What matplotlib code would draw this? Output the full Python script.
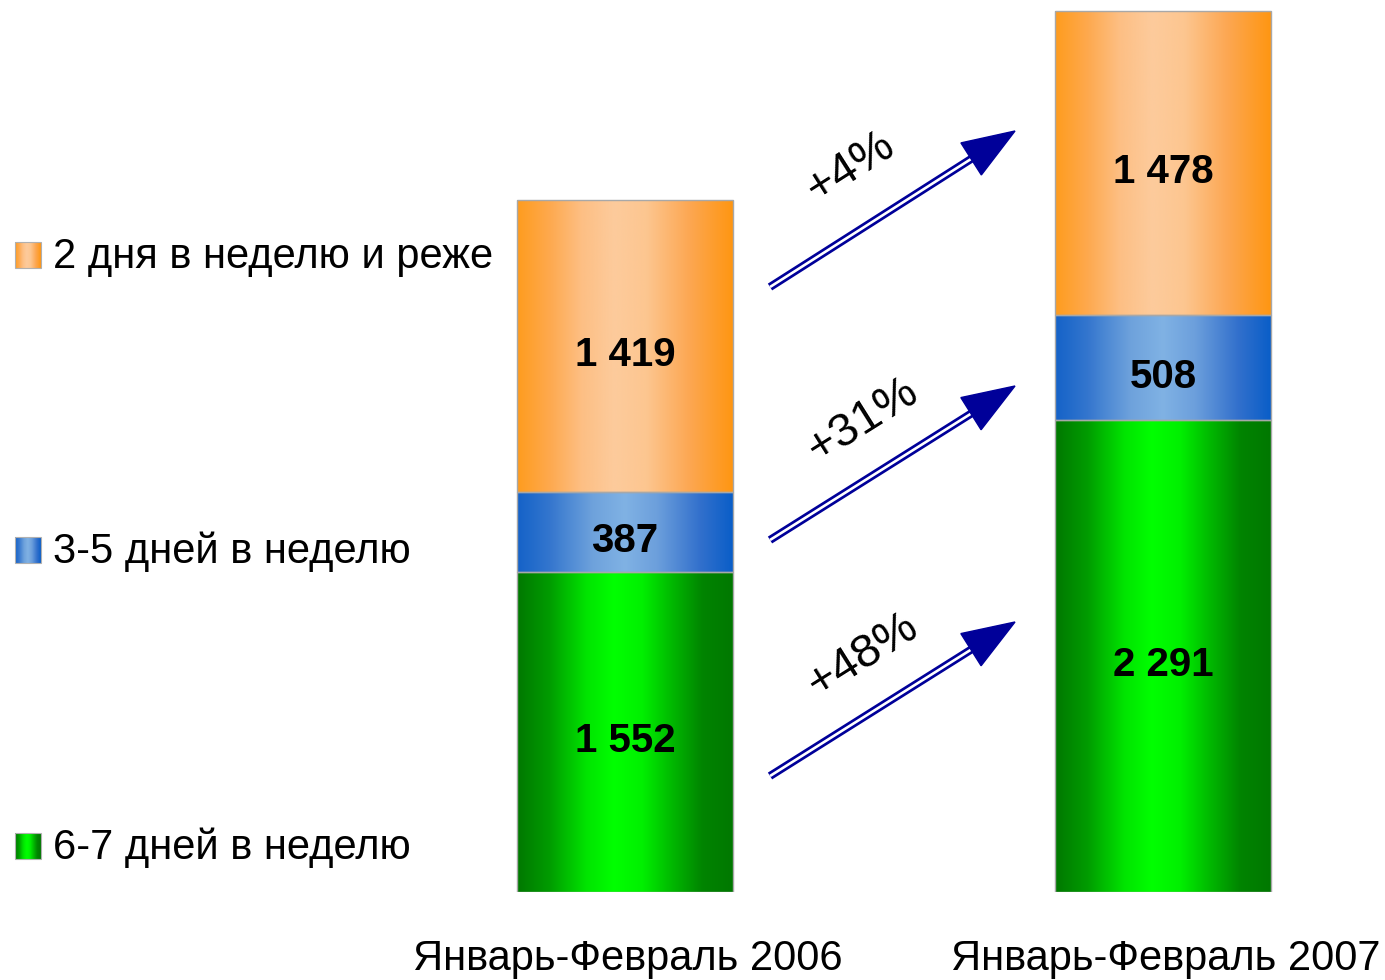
import matplotlib
matplotlib.use("Agg")
import matplotlib.pyplot as plt
import numpy as np
from matplotlib import font_manager, transforms
from matplotlib.colors import LinearSegmentedColormap
from matplotlib.patches import Polygon, Rectangle

# ---- data ----
periods = ["Январь-Февраль 2006", "Январь-Февраль 2007"]
series_names = ["6-7 дней в неделю", "3-5 дней в неделю", "2 дня в неделю и реже"]
days_6_7 = [1552, 2291]
days_3_5 = [387, 508]
days_2_less = [1419, 1478]
series_values = [days_6_7, days_3_5, days_2_less]


def has_font(name):
    try:
        font_manager.findfont(font_manager.FontProperties(family=name),
                              fallback_to_default=False)
        return True
    except ValueError:
        return False


BASE_FONT = "Liberation Sans"
NARROW_FONT = "Liberation Sans Narrow" if has_font("Liberation Sans Narrow") else None
plt.rcParams["font.family"] = [BASE_FONT, "DejaVu Sans"]

# horizontal "cylinder" shading for each series
shades = [
    LinearSegmentedColormap.from_list("green", [
        (0.0, "#007800"), (0.15, "#009c00"), (0.32, "#00e400"), (0.45, "#00ff00"),
        (0.58, "#00f000"), (0.72, "#00b800"), (0.86, "#008400"), (1.0, "#007800")]),
    LinearSegmentedColormap.from_list("blue", [
        (0.0, "#1462c8"), (0.15, "#3476ce"), (0.35, "#6ea2dc"), (0.5, "#80b2e4"),
        (0.65, "#6c9fdc"), (0.85, "#3270cc"), (1.0, "#0a5ec8")]),
    LinearSegmentedColormap.from_list("orange", [
        (0.0, "#ff9c1e"), (0.15, "#fea94e"), (0.3, "#fdbf84"), (0.45, "#fdcb9c"),
        (0.6, "#fdc690"), (0.8, "#fca752"), (1.0, "#ff9612")]),
]
grad = np.linspace(0, 1, 256)[np.newaxis, :]

W, H = 1385, 980
fig = plt.figure(figsize=(W / 100, H / 100), dpi=100)
fig.patch.set_facecolor("white")

# bar axes: baseline at y=892 px, 0.2061 px per unit; bars 538 px apart
px_per_unit = 0.2061
ax = fig.add_axes([0, (H - 892) / H, 1, 892 / H])
ax.axis("off")

# overlay axes in pixel coordinates for legend, arrows and captions
ov = fig.add_axes([0, 0, 1, 1], zorder=3)
ov.axis("off")

x = np.arange(len(periods))
bar_w = 216 / 538
bottom = np.zeros(len(periods))
for vals, cmap in zip(series_values, shades):
    bars = ax.bar(x, vals, width=bar_w, bottom=bottom, facecolor="none",
                  edgecolor="#a8a8a8", linewidth=1.0, zorder=2)
    for rect, v in zip(bars, vals):
        x0, y0 = rect.get_x(), rect.get_y()
        im = ax.imshow(grad, cmap=cmap, aspect="auto", interpolation="bicubic",
                       extent=[x0, x0 + rect.get_width(), y0, y0 + rect.get_height()],
                       zorder=1)
        im.set_clip_path(rect)
        ax.annotate(f"{v:,}".replace(",", " "),
                    (x0 + rect.get_width() / 2, y0 + rect.get_height() / 2),
                    xytext=(0, -6.5), textcoords="offset points",
                    ha="center", va="center", fontsize=29, fontweight="bold",
                    color="#000000", zorder=4)
    bottom += np.array(vals)

ax.set_xlim(-625 / 538, (W - 625) / 538)
ax.set_ylim(0, 892 / px_per_unit)

# period captions under the bars
cap_tr = transforms.blended_transform_factory(ax.transData, ov.transData)
for xi, name in zip(x, periods):
    if NARROW_FONT:
        ov.text(xi, 960, name, transform=cap_tr, ha="center", va="center",
                fontsize=35, family=[NARROW_FONT, "DejaVu Sans"])
    else:
        ov.text(xi + 0.006, 959, name, transform=cap_tr, ha="center", va="center",
                fontsize=30)

# legend on the left
legend_rows = [846, 550, 255]
for name, cmap, yc in zip(series_names, shades, legend_rows):
    ov.imshow(grad, cmap=cmap, aspect="auto", interpolation="bicubic",
              extent=[15, 41, yc + 13, yc - 13], zorder=2)
    ov.add_patch(Rectangle((15, yc - 13), 26, 26, fill=False,
                           edgecolor="#b0b0b0", linewidth=0.8, zorder=3))
    ov.text(53, yc + 2, name, ha="left", va="center", fontsize=30, color="#000000")

# growth arrows with percentage labels
arrow_color = "#000099"
arrow_tails = [(770, 776), (770, 540), (770, 287)]
arrow_tips = [(1015, 622), (1015, 386), (1015, 131)]
label_centers = [(863, 655), (863, 420), (851, 167)]
head_len, head_half = 52, 19
for vals, (tx, ty), (hx, hy), (lx, ly) in zip(series_values, arrow_tails,
                                             arrow_tips, label_centers):
    d = np.array([hx - tx, hy - ty], dtype=float)
    L = np.hypot(*d)
    u = d / L
    n = np.array([-u[1], u[0]])
    base = np.array([hx, hy]) - u * head_len
    shaft_end = base + u * 6
    ov.plot([tx, shaft_end[0]], [ty, shaft_end[1]], color=arrow_color,
            lw=5.8, solid_capstyle="butt", zorder=4)
    ov.plot([tx, shaft_end[0]], [ty, shaft_end[1]], color="white",
            lw=1.9, solid_capstyle="butt", zorder=5)
    head = [(hx, hy), tuple(base + n * head_half), tuple(base - n * head_half)]
    ov.add_patch(Polygon(head, closed=True, facecolor=arrow_color,
                         edgecolor=arrow_color, linewidth=1, zorder=6))
    pct = round((vals[1] / vals[0] - 1) * 100)
    ang = np.degrees(np.arctan2(-(d[1]), d[0]))
    ov.text(lx, ly, f"+{pct}%", rotation=ang, rotation_mode="anchor",
            ha="center", va="center", fontsize=34, color="#000000", zorder=6)

ov.set_xlim(0, W)
ov.set_ylim(H, 0)

fig.savefig("out.png", dpi=100, facecolor="white")
